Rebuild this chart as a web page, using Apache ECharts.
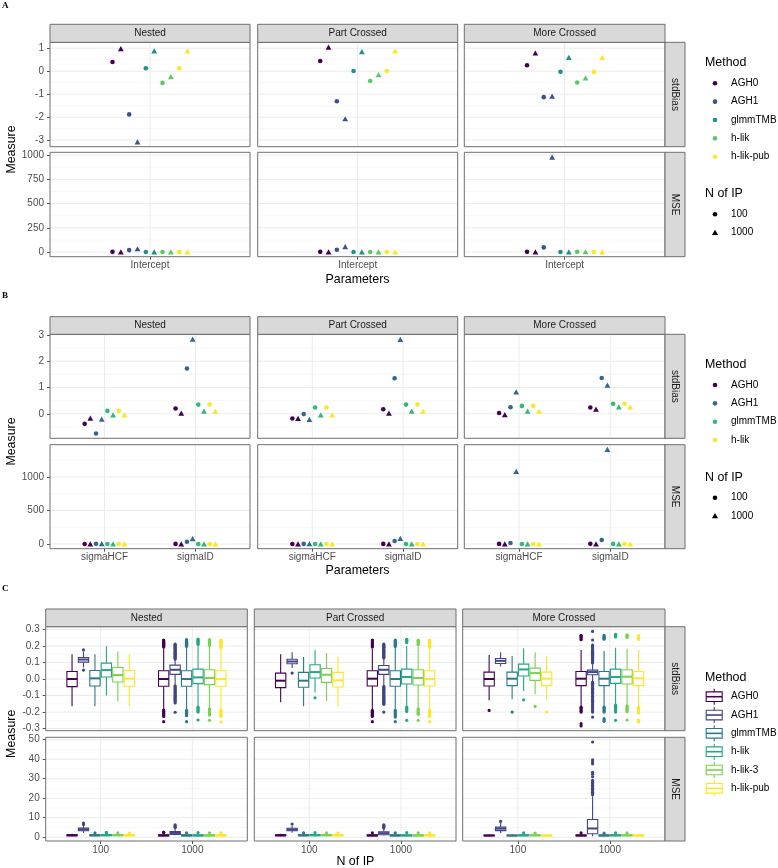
<!DOCTYPE html>
<html><head><meta charset="utf-8">
<script src="https://cdn.jsdelivr.net/npm/echarts@6/dist/echarts.min.js"></script>
<style>html,body{margin:0;padding:0;background:#fff}#c{width:778px;height:868px}</style>
</head><body><div id="c"></div>
<script>
// ================= DATA =================
const facets = ['Nested', 'Part Crossed', 'More Crossed'];
const rowNames = ['stdBias', 'MSE'];
const nOfIP = ['100', '1000'];

// ---- Panel A (Intercept) ----
const methodsA = ['AGH0', 'AGH1', 'glmmTMB', 'h-lik', 'h-lik-pub'];
const colorsA = ['#440154', '#3B528B', '#21908C', '#5DC863', '#FDE725'];
const paramsA = ['Intercept'];
// order: AGH0-100, AGH0-1000, AGH1-100, AGH1-1000, glmmTMB-100, glmmTMB-1000, h-lik-100, h-lik-1000, h-lik-pub-100, h-lik-pub-1000
const A_stdBias_Nested = [0.40, 0.98, -1.88, -3.08, 0.13, 0.88, -0.51, -0.24, 0.13, 0.88];
const A_stdBias_PartCrossed = [0.44, 1.05, -1.31, -2.07, 0.01, 0.85, -0.43, -0.15, 0.01, 0.88];
const A_stdBias_MoreCrossed = [0.26, 0.79, -1.13, -1.09, -0.03, 0.60, -0.49, -0.29, -0.03, 0.60];
const A_MSE_Nested = [2, 2, 20, 34, 1, 1, 1, 1, 1, 1];
const A_MSE_PartCrossed = [2, 2, 24, 55, 1, 1, 1, 1, 1, 1];
const A_MSE_MoreCrossed = [2, 2, 48, 980, 1, 2, 3, 3, 1, 2];
const A_stdBias_ticks = [-3, -2, -1, 0, 1];
const A_stdBias_minor = [-2.5, -1.5, -0.5, 0.5];
const A_MSE_ticks = [0, 250, 500, 750, 1000];
const A_MSE_minor = [125, 375, 625, 875];

// ---- Panel B (variance parameters) ----
const methodsB = ['AGH0', 'AGH1', 'glmmTMB', 'h-lik'];
const colorsB = ['#440154', '#31688E', '#35B779', '#FDE725'];
const paramsB = ['sigmaHCF', 'sigmaID'];
// order: AGH0-100, AGH0-1000, AGH1-100, AGH1-1000, glmmTMB-100, glmmTMB-1000, h-lik-100, h-lik-1000
const B_stdBias_Nested_sigmaHCF = [-0.38, -0.16, -0.75, -0.20, 0.11, -0.04, 0.11, -0.04];
const B_stdBias_Nested_sigmaID = [0.20, 0.03, 1.72, 2.84, 0.35, 0.10, 0.35, 0.10];
const B_stdBias_PartCrossed_sigmaHCF = [-0.175, -0.175, -0.01, -0.21, 0.24, -0.04, 0.24, -0.04];
const B_stdBias_PartCrossed_sigmaID = [0.175, 0.03, 1.35, 2.83, 0.35, 0.10, 0.35, 0.10];
const B_stdBias_MoreCrossed_sigmaHCF = [0.03, -0.03, 0.25, 0.83, 0.30, 0.10, 0.30, 0.10];
const B_stdBias_MoreCrossed_sigmaID = [0.24, 0.18, 1.36, 1.09, 0.38, 0.26, 0.38, 0.26];
const B_MSE_Nested_sigmaHCF = [1, 1, 3, 5, 1, 1, 1, 1];
const B_MSE_Nested_sigmaID = [2, 2, 35, 80, 1, 1, 1, 1];
const B_MSE_PartCrossed_sigmaHCF = [1, 1, 2, 4, 1, 1, 1, 1];
const B_MSE_PartCrossed_sigmaID = [2, 2, 45, 84, 1, 1, 1, 1];
const B_MSE_MoreCrossed_sigmaHCF = [2, 2, 15, 1084, 1, 1, 1, 1];
const B_MSE_MoreCrossed_sigmaID = [3, 3, 60, 1411, 2, 2, 2, 2];
const B_stdBias_ticks = [0, 1, 2, 3];
const B_stdBias_minor = [-0.5, 0.5, 1.5, 2.5];
const B_MSE_ticks = [0, 500, 1000];
const B_MSE_minor = [250, 750, 1250];

// ---- Panel C (boxplots by N of IP) ----
const methodsC = ['AGH0', 'AGH1', 'glmmTMB', 'h-lik', 'h-lik-3', 'h-lik-pub'];
const colorsC = ['#440154', '#414487', '#2A788E', '#22A884', '#7AD151', '#FDE725'];
// box stats: [lower whisker, Q1, median, Q3, upper whisker], one per method
const C_stdBias_Nested_100 = [[-0.164,-0.046,0.0,0.046,0.15],[0.07,0.102,0.118,0.13,0.165],[-0.164,-0.042,0.004,0.052,0.15],[-0.10,0.012,0.054,0.096,0.198],[-0.136,-0.018,0.024,0.07,0.166],[-0.164,-0.044,0.002,0.052,0.15]];
const C_stdBias_Nested_100_out = [[],[0.176,0.054],[],[],[],[]];
const C_stdBias_Nested_1000 = [[-0.185,-0.044,0.0,0.05,0.19],[-0.035,0.028,0.056,0.084,0.115],[-0.185,-0.044,0.0,0.05,0.19],[-0.165,-0.028,0.01,0.06,0.2],[-0.175,-0.034,0.006,0.056,0.195],[-0.185,-0.044,0.0,0.05,0.185]];
const C_stdBias_Nested_1000_out = [
  [0.236,0.231,0.226,0.222,0.216,0.211,0.205,0.199,0.194,-0.188,-0.193,-0.198,-0.204,-0.209,-0.215,-0.221,-0.226,-0.258],
  [0.211,0.206,0.201,0.196,0.191,0.186,0.181,0.176,0.171,0.166,0.161,0.156,0.151,0.146,0.141,0.136,0.131,0.126,0.121,-0.041,-0.047,-0.053,-0.059,-0.065,-0.071,-0.077,-0.083,-0.089,-0.095,-0.101,-0.107,-0.113,-0.119,-0.125,-0.131,-0.138,-0.145,-0.201],
  [0.238,0.232,0.227,0.222,0.216,0.21,0.204,0.197,-0.19,-0.196,-0.202,-0.208,-0.215,-0.222,-0.258],
  [0.242,0.237,0.232,0.226,0.221,0.215,0.209,-0.17,-0.176,-0.182,-0.188,-0.194,-0.2,-0.248],
  [0.238,0.233,0.228,0.222,0.216,0.21,0.203,-0.18,-0.186,-0.192,-0.198,-0.204,-0.212,-0.218,-0.25],
  [0.236,0.232,0.227,0.222,0.217,0.212,0.206,0.2,0.195,0.19,-0.19,-0.196,-0.202,-0.208,-0.214,-0.22,-0.226,-0.26]];
const C_stdBias_PartCrossed_100 = [[-0.14,-0.052,-0.01,0.036,0.15],[0.066,0.092,0.106,0.12,0.162],[-0.164,-0.05,-0.01,0.04,0.134],[-0.082,0.006,0.042,0.086,0.176],[-0.132,-0.02,0.026,0.064,0.158],[-0.164,-0.048,-0.008,0.04,0.134]];
const C_stdBias_PartCrossed_100_out = [[],[0.036],[],[-0.114],[],[]];
const C_stdBias_PartCrossed_1000 = [[-0.185,-0.042,0.002,0.05,0.185],[-0.04,0.028,0.056,0.082,0.12],[-0.185,-0.044,0.0,0.05,0.19],[-0.165,-0.03,0.012,0.06,0.2],[-0.175,-0.036,0.006,0.056,0.195],[-0.185,-0.042,0.0,0.05,0.185]];
const C_stdBias_PartCrossed_1000_out = [
  [0.236,0.23,0.224,0.218,0.212,0.206,0.2,0.194,-0.19,-0.196,-0.202,-0.208,-0.214,-0.22,-0.226,-0.258],
  [0.212,0.207,0.202,0.197,0.192,0.187,0.182,0.177,0.172,0.167,0.162,0.157,0.152,0.147,0.142,0.137,0.132,0.127,-0.045,-0.051,-0.057,-0.063,-0.069,-0.075,-0.081,-0.087,-0.093,-0.099,-0.105,-0.111,-0.117,-0.123,-0.129,-0.135,-0.141,-0.147,-0.153,-0.2],
  [0.236,0.231,0.226,0.221,0.215,0.209,0.203,0.197,-0.19,-0.197,-0.204,-0.21,-0.217,-0.224,-0.23,-0.258],
  [0.24,0.235,0.23,0.225,0.22,-0.17,-0.176,-0.183,-0.19,-0.197,-0.25],
  [0.236,0.231,0.226,0.22,0.214,0.207,-0.18,-0.187,-0.194,-0.2,-0.207,-0.214,-0.25],
  [0.236,0.231,0.226,0.221,0.216,0.21,0.204,0.198,0.192,-0.19,-0.196,-0.202,-0.208,-0.214,-0.22,-0.226,-0.258]];
const C_stdBias_MoreCrossed_100 = [[-0.128,-0.042,0.0,0.042,0.146],[0.076,0.094,0.11,0.124,0.162],[-0.122,-0.04,0.002,0.042,0.14],[-0.072,0.018,0.058,0.09,0.186],[-0.092,-0.008,0.036,0.066,0.162],[-0.122,-0.04,0.002,0.042,0.14]];
const C_stdBias_MoreCrossed_100_out = [[-0.19],[],[-0.2],[-0.126],[-0.166],[-0.2]];
const C_stdBias_MoreCrossed_1000 = [[-0.165,-0.04,0.002,0.046,0.175],[-0.012,0.026,0.042,0.054,0.09],[-0.165,-0.04,0.002,0.046,0.17],[-0.155,-0.026,0.012,0.06,0.19],[-0.16,-0.03,0.014,0.056,0.185],[-0.165,-0.04,0.004,0.046,0.175]];
const C_stdBias_MoreCrossed_1000_out = [
  [0.265,0.258,0.251,0.244,0.238,-0.17,-0.176,-0.182,-0.188,-0.194,-0.2,-0.27,-0.284],
  [0.288,0.236,0.206,0.2,0.194,0.188,0.181,0.175,0.168,0.162,0.155,0.149,0.142,0.136,0.129,0.123,0.116,0.11,0.103,0.097,-0.018,-0.025,-0.032,-0.04,-0.048,-0.056,-0.064,-0.072,-0.08,-0.088,-0.097,-0.106,-0.115,-0.124,-0.134,-0.144,-0.155,-0.166,-0.178,-0.19,-0.2,-0.23],
  [0.264,0.258,0.252,0.246,0.241,-0.17,-0.176,-0.182,-0.188,-0.194,-0.2,-0.24,-0.248,-0.256],
  [0.27,0.265,0.26,0.255,-0.158,-0.164,-0.17,-0.176,-0.182,-0.188,-0.194,-0.2,-0.25],
  [0.268,0.263,0.258,0.252,-0.162,-0.168,-0.174,-0.18,-0.186,-0.192,-0.198,-0.248],
  [0.262,0.256,0.25,0.244,0.239,-0.17,-0.176,-0.182,-0.188,-0.194,-0.2,-0.206,-0.248,-0.254,-0.26]];

const C_MSE_Nested_100 = [[0.5,0.75,1.0,1.3,1.8],[2.2,3.3,4.0,4.7,6.2],[0.5,0.75,1.0,1.3,1.9],[0.5,0.8,1.05,1.35,1.9],[0.5,0.8,1.05,1.35,1.9],[0.5,0.75,1.0,1.3,1.9]];
const C_MSE_Nested_100_out = [[],[6.6,7.3],[2.2],[2.3,2.5],[2.2],[2.1]];
const C_MSE_Nested_1000 = [[0.5,0.7,0.95,1.3,2.0],[1.0,1.4,2.2,2.9,4.6],[0.5,0.7,0.95,1.3,2.0],[0.5,0.7,0.95,1.3,2.0],[0.5,0.7,0.95,1.3,2.0],[0.5,0.7,0.95,1.3,2.0]];
const C_MSE_Nested_1000_out = [[2.3,2.6],[5.0,5.4,5.8,6.3],[2.3],[2.4],[2.3],[2.2]];
const C_MSE_PartCrossed_100 = [[0.5,0.75,1.0,1.3,1.8],[2.3,3.3,3.9,4.6,6.0],[0.5,0.75,1.0,1.3,1.9],[0.5,0.8,1.05,1.35,1.9],[0.5,0.8,1.05,1.35,1.9],[0.5,0.75,1.0,1.3,1.9]];
const C_MSE_PartCrossed_100_out = [[],[6.8],[2.2],[2.4],[2.2],[2.1]];
const C_MSE_PartCrossed_1000 = [[0.5,0.7,0.95,1.3,2.0],[0.9,1.3,2.1,2.8,4.4],[0.5,0.7,0.95,1.3,2.0],[0.5,0.7,0.95,1.3,2.0],[0.5,0.7,0.95,1.3,2.0],[0.5,0.7,0.95,1.3,2.0]];
const C_MSE_PartCrossed_1000_out = [[2.3],[4.8,5.2,5.6,6.0,6.4],[2.3],[2.4],[2.3],[2.2]];
const C_MSE_MoreCrossed_100 = [[0.5,0.7,0.9,1.1,1.4],[2.2,3.4,4.4,5.2,7.3],[0.5,0.7,0.9,1.1,1.5],[0.5,0.75,1.0,1.25,1.8],[0.5,0.75,1.0,1.25,1.8],[0.5,0.7,0.9,1.1,1.5]];
const C_MSE_MoreCrossed_100_out = [[],[8.1],[],[2.2],[2.1],[]];
const C_MSE_MoreCrossed_1000 = [[0.5,0.7,0.9,1.2,1.8],[0.5,1.8,4.5,9.1,21.0],[0.5,0.7,0.9,1.2,1.8],[0.5,0.75,1.0,1.25,1.8],[0.5,0.75,1.0,1.25,1.8],[0.5,0.7,0.9,1.2,1.8]];
const C_MSE_MoreCrossed_1000_out = [[2.2],[21.8,22.5,23.1,23.8,24.4,25.1,25.9,26.6,27.4,28.2,29.1,31.0,32.3,33.3,37.6,38.6,39.6,48.8],[2.1],[2.3],[2.2],[]];
const C_stdBias_ticks = [-0.3, -0.2, -0.1, 0.0, 0.1, 0.2, 0.3];
const C_stdBias_minor = [-0.25, -0.15, -0.05, 0.05, 0.15, 0.25];
const C_MSE_ticks = [0, 10, 20, 30, 40, 50];
const C_MSE_minor = [5, 15, 25, 35, 45];

// ================= BUILD =================
const FONT = '"Liberation Sans", Arial, Helvetica, sans-serif';
const SMALL = 10, TITLE = 12.4;
const grids = [], xAxes = [], yAxes = [], series = [], gfx = [];
let gIdx = 0;

function expanded(vals) {
  let mn = Infinity, mx = -Infinity;
  vals.forEach(v => { if (v < mn) mn = v; if (v > mx) mx = v; });
  const e = (mx - mn) * 0.05;
  return [mn - e, mx + e];
}
function flat(a) { return a.reduce((s, x) => s.concat(Array.isArray(x) ? flat(x) : [x]), []); }

function addGrid(o) {
  const i = gIdx++;
  grids.push({ left: o.left, top: o.top, width: o.width, height: o.height, show: false });
  xAxes.push({
    gridIndex: i, type: 'value', min: o.xr[0], max: o.xr[1],
    axisLine: { show: false, onZero: false }, splitLine: { show: false },
    axisTick: { show: o.showX, length: 3, lineStyle: { color: '#555' }, customValues: o.xTicks },
    axisLabel: { show: o.showX, customValues: o.xTicks, margin: 4, color: '#4D4D4D', fontSize: SMALL, fontFamily: FONT,
      formatter: v => { const k = o.xTicks.indexOf(v); return k >= 0 ? o.xLabels[k] : ''; } }
  });
  yAxes.push({
    gridIndex: i, type: 'value', min: o.yr[0], max: o.yr[1],
    axisLine: { show: false, onZero: false }, splitLine: { show: false },
    axisTick: { show: o.showY, length: 3, lineStyle: { color: '#555' }, customValues: o.yTicks },
    axisLabel: { show: o.showY, customValues: o.yTicks, margin: 6, color: '#4D4D4D', fontSize: SMALL, fontFamily: FONT,
      formatter: o.yFmt }
  });
  const gl = [];
  o.yMinor.forEach(v => gl.push([0, v, 0]));
  o.yTicks.forEach(v => gl.push([0, v, 1]));
  o.xTicks.forEach(v => gl.push([1, v, 1]));
  const xr = o.xr, yr = o.yr;
  series.push({
    type: 'custom', xAxisIndex: i, yAxisIndex: i, silent: true, z: 1, data: gl,
    renderItem: (params, api) => {
      const ori = api.value(0), v = api.value(1), maj = api.value(2);
      let p1, p2;
      if (ori === 0) { p1 = api.coord([xr[0], v]); p2 = api.coord([xr[1], v]); }
      else { p1 = api.coord([v, yr[0]]); p2 = api.coord([v, yr[1]]); }
      return { type: 'line', shape: { x1: p1[0], y1: p1[1], x2: p2[0], y2: p2[1] },
        style: { stroke: maj ? '#EBEBEB' : '#F2F2F2', lineWidth: maj ? 1 : 0.6 } };
    }
  });
  gfx.push({ type: 'rect', z: 100, silent: true, shape: { x: o.left, y: o.top, width: o.width, height: o.height },
    style: { fill: 'none', stroke: '#6E6E6E', lineWidth: 1 } });
  return i;
}

function txt(text, x, y, size, color, opts) {
  opts = opts || {};
  const el = { type: 'text', x: x, y: y, z: 101, silent: true,
    style: { text: text, font: (opts.weight || 'normal') + ' ' + size + 'px ' + (opts.family || FONT),
      fill: color, align: opts.align || 'left', textAlign: opts.align || 'left',
      verticalAlign: 'middle', textVerticalAlign: 'middle' } };
  if (opts.rotation) el.rotation = opts.rotation;
  gfx.push(el);
}
function topStrip(left, top, width, height, label) {
  gfx.push({ type: 'rect', z: 100, silent: true, shape: { x: left, y: top, width: width, height: height },
    style: { fill: '#D9D9D9', stroke: '#6E6E6E', lineWidth: 1 } });
  txt(label, left + width / 2, top + height / 2, SMALL, '#1A1A1A', { align: 'center' });
}
function rightStrip(left, top, width, height, label) {
  gfx.push({ type: 'rect', z: 100, silent: true, shape: { x: left, y: top, width: width, height: height },
    style: { fill: '#D9D9D9', stroke: '#6E6E6E', lineWidth: 1 } });
  txt(label, left + width / 2, top + height / 2, SMALL, '#1A1A1A', { align: 'center', rotation: -Math.PI / 2 });
}

// ---------- Panel A ----------
const colsAB = [[50, 200], [257.7, 200], [464.3, 200.7]];
const A_rows = [
  { top: 42.3, height: 104.4, data: [A_stdBias_Nested, A_stdBias_PartCrossed, A_stdBias_MoreCrossed], ticks: A_stdBias_ticks, minor: A_stdBias_minor, fmt: v => String(v) },
  { top: 152.3, height: 104.4, data: [A_MSE_Nested, A_MSE_PartCrossed, A_MSE_MoreCrossed], ticks: A_MSE_ticks, minor: A_MSE_minor, fmt: v => String(v) }
];
A_rows.forEach((row, r) => {
  const yr = expanded(flat(row.data));
  facets.forEach((f, c) => {
    const i = addGrid({ left: colsAB[c][0], top: row.top, width: colsAB[c][1], height: row.height,
      xr: [0.4, paramsA.length + 0.6], yr: yr, xTicks: paramsA.map((p, k) => k + 1), xLabels: paramsA,
      yTicks: row.ticks, yMinor: row.minor, yFmt: row.fmt, showX: r === 1, showY: c === 0 });
    const G = methodsA.length * nOfIP.length, slot = 0.5 / G;
    methodsA.forEach((m, mi) => {
      const pts = [];
      nOfIP.forEach((n, ni) => {
        const g = mi * nOfIP.length + ni;
        pts.push({ value: [1 + (g - (G - 1) / 2) * slot, row.data[c][g]], symbol: ni === 0 ? 'circle' : 'triangle', symbolSize: ni === 0 ? 4.6 : [5.8, 5.2] });
      });
      series.push({ type: 'scatter', name: m, xAxisIndex: i, yAxisIndex: i, z: 3, data: pts, itemStyle: { color: colorsA[mi], opacity: 1 } });
    });
  });
  rightStrip(665, row.top, 20, row.height, rowNames[r]);
});
facets.forEach((f, c) => topStrip(colsAB[c][0], 24.3, colsAB[c][1], 18, f));

// ---------- Panel B ----------
const B_data = {
  stdBias: [[B_stdBias_Nested_sigmaHCF, B_stdBias_Nested_sigmaID], [B_stdBias_PartCrossed_sigmaHCF, B_stdBias_PartCrossed_sigmaID], [B_stdBias_MoreCrossed_sigmaHCF, B_stdBias_MoreCrossed_sigmaID]],
  MSE: [[B_MSE_Nested_sigmaHCF, B_MSE_Nested_sigmaID], [B_MSE_PartCrossed_sigmaHCF, B_MSE_PartCrossed_sigmaID], [B_MSE_MoreCrossed_sigmaHCF, B_MSE_MoreCrossed_sigmaID]]
};
const B_rows = [
  { top: 334.3, height: 104, data: B_data.stdBias, ticks: B_stdBias_ticks, minor: B_stdBias_minor, fmt: v => String(v) },
  { top: 444.7, height: 104, data: B_data.MSE, ticks: B_MSE_ticks, minor: B_MSE_minor, fmt: v => String(v) }
];
B_rows.forEach((row, r) => {
  const yr = expanded(flat(row.data));
  facets.forEach((f, c) => {
    const i = addGrid({ left: colsAB[c][0], top: row.top, width: colsAB[c][1], height: row.height,
      xr: [0.4, paramsB.length + 0.6], yr: yr, xTicks: paramsB.map((p, k) => k + 1), xLabels: paramsB,
      yTicks: row.ticks, yMinor: row.minor, yFmt: row.fmt, showX: r === 1, showY: c === 0 });
    const G = methodsB.length * nOfIP.length, slot = 0.5 / G;
    methodsB.forEach((m, mi) => {
      const pts = [];
      paramsB.forEach((p, pi) => {
        nOfIP.forEach((n, ni) => {
          const g = mi * nOfIP.length + ni;
          pts.push({ value: [pi + 1 + (g - (G - 1) / 2) * slot, row.data[c][pi][g]], symbol: ni === 0 ? 'circle' : 'triangle', symbolSize: ni === 0 ? 4.6 : [5.8, 5.2] });
        });
      });
      series.push({ type: 'scatter', name: m, xAxisIndex: i, yAxisIndex: i, z: 3, data: pts, itemStyle: { color: colorsB[mi], opacity: 1 } });
    });
  });
  rightStrip(665, row.top, 20, row.height, rowNames[r]);
});
facets.forEach((f, c) => topStrip(colsAB[c][0], 316.7, colsAB[c][1], 17.6, f));

// ---------- Panel C ----------
const colsC = [[45.7, 201.6], [254.3, 201.7], [462.7, 202.3]];
const C_box = {
  stdBias: [[C_stdBias_Nested_100, C_stdBias_Nested_1000], [C_stdBias_PartCrossed_100, C_stdBias_PartCrossed_1000], [C_stdBias_MoreCrossed_100, C_stdBias_MoreCrossed_1000]],
  MSE: [[C_MSE_Nested_100, C_MSE_Nested_1000], [C_MSE_PartCrossed_100, C_MSE_PartCrossed_1000], [C_MSE_MoreCrossed_100, C_MSE_MoreCrossed_1000]]
};
const C_out = {
  stdBias: [[C_stdBias_Nested_100_out, C_stdBias_Nested_1000_out], [C_stdBias_PartCrossed_100_out, C_stdBias_PartCrossed_1000_out], [C_stdBias_MoreCrossed_100_out, C_stdBias_MoreCrossed_1000_out]],
  MSE: [[C_MSE_Nested_100_out, C_MSE_Nested_1000_out], [C_MSE_PartCrossed_100_out, C_MSE_PartCrossed_1000_out], [C_MSE_MoreCrossed_100_out, C_MSE_MoreCrossed_1000_out]]
};
const C_rows = [
  { key: 'stdBias', top: 626.7, height: 104, ticks: C_stdBias_ticks, minor: C_stdBias_minor, fmt: v => v.toFixed(1) },
  { key: 'MSE', top: 737.3, height: 103.7, ticks: C_MSE_ticks, minor: C_MSE_minor, fmt: v => String(v) }
];
const BOX_HW = 0.125 * 0.9 / 2;
C_rows.forEach((row, r) => {
  const yr = expanded(flat(C_box[row.key]).concat(flat(C_out[row.key])));
  facets.forEach((f, c) => {
    const i = addGrid({ left: colsC[c][0], top: row.top, width: colsC[c][1], height: row.height,
      xr: [0.4, nOfIP.length + 0.6], yr: yr, xTicks: nOfIP.map((p, k) => k + 1), xLabels: nOfIP,
      yTicks: row.ticks, yMinor: row.minor, yFmt: row.fmt, showX: r === 1, showY: c === 0 });
    const G = methodsC.length, slot = 0.75 / G;
    methodsC.forEach((m, mi) => {
      const col = colorsC[mi];
      const boxes = [], outs = [];
      nOfIP.forEach((n, ni) => {
        const x = ni + 1 + (mi - (G - 1) / 2) * slot;
        const b = C_box[row.key][c][ni][mi];
        boxes.push([x, b[0], b[1], b[2], b[3], b[4]]);
        C_out[row.key][c][ni][mi].forEach(v => outs.push([x, v]));
      });
      series.push({ type: 'scatter', name: m, xAxisIndex: i, yAxisIndex: i, z: 2, data: outs, symbol: 'circle', symbolSize: 3.2,
        itemStyle: { color: col, opacity: 1 } });
      series.push({
        type: 'custom', name: m, xAxisIndex: i, yAxisIndex: i, z: 3, data: boxes,
        encode: { x: 0, y: [1, 2, 3, 4, 5] },
        renderItem: (params, api) => {
          const x = api.value(0);
          const lo = api.coord([x, api.value(1)]), q1 = api.coord([x, api.value(2)]), md = api.coord([x, api.value(3)]),
            q3 = api.coord([x, api.value(4)]), hi = api.coord([x, api.value(5)]);
          const xl = api.coord([x - BOX_HW, api.value(3)])[0], xr2 = api.coord([x + BOX_HW, api.value(3)])[0];
          return { type: 'group', children: [
            { type: 'line', shape: { x1: lo[0], y1: lo[1], x2: q1[0], y2: q1[1] }, style: { stroke: col, lineWidth: 1.1 } },
            { type: 'line', shape: { x1: q3[0], y1: q3[1], x2: hi[0], y2: hi[1] }, style: { stroke: col, lineWidth: 1.1 } },
            { type: 'rect', shape: { x: xl, y: q3[1], width: xr2 - xl, height: Math.max(q1[1] - q3[1], 0.5) }, style: { fill: '#FFFFFF', stroke: col, lineWidth: 1.1 } },
            { type: 'line', shape: { x1: xl, y1: md[1], x2: xr2, y2: md[1] }, style: { stroke: col, lineWidth: 2 } }
          ] };
        }
      });
    });
  });
  rightStrip(665, row.top, 20, row.height, rowNames[r]);
});
facets.forEach((f, c) => topStrip(colsC[c][0], 609, colsC[c][1], 17.7, f));

// ---------- titles & labels ----------
txt('A', 2, 5.5, 9, '#000', { weight: 'bold', family: '"Liberation Serif", "DejaVu Serif", serif' });
txt('B', 2, 296, 9, '#000', { weight: 'bold', family: '"Liberation Serif", "DejaVu Serif", serif' });
txt('C', 2, 589, 9, '#000', { weight: 'bold', family: '"Liberation Serif", "DejaVu Serif", serif' });
txt('Measure', 12, 149.5, TITLE, '#000', { align: 'center', rotation: Math.PI / 2 });
txt('Measure', 12, 441.5, TITLE, '#000', { align: 'center', rotation: Math.PI / 2 });
txt('Measure', 12, 733.8, TITLE, '#000', { align: 'center', rotation: Math.PI / 2 });
txt('Parameters', 357.5, 279.5, TITLE, '#000', { align: 'center' });
txt('Parameters', 357.5, 570.5, TITLE, '#000', { align: 'center' });
txt('N of IP', 355.4, 862, TITLE, '#000', { align: 'center' });

// ---------- legends ----------
function triPts(cx, cy) { return [[cx, cy - 3], [cx - 3.1, cy + 2.3], [cx + 3.1, cy + 2.3]]; }
function pointLegend(titleY, methods, colors, itemY0, nTitleY, nY0) {
  txt('Method', 705, titleY, TITLE, '#000');
  methods.forEach((m, k) => {
    const y = itemY0 + k * 18.35;
    gfx.push({ type: 'circle', z: 101, silent: true, shape: { cx: 715, cy: y, r: 2.3 }, style: { fill: colors[k] } });
    txt(m, 731, y, SMALL, '#000');
  });
  txt('N of IP', 705, nTitleY, TITLE, '#000');
  gfx.push({ type: 'circle', z: 101, silent: true, shape: { cx: 715, cy: nY0, r: 2.3 }, style: { fill: '#000' } });
  txt(nOfIP[0], 731, nY0, SMALL, '#000');
  gfx.push({ type: 'polygon', z: 101, silent: true, shape: { points: triPts(715, nY0 + 18.35) }, style: { fill: '#000' } });
  txt(nOfIP[1], 731, nY0 + 18.35, SMALL, '#000');
}
pointLegend(63, methodsA, colorsA, 83.3, 193.3, 214.3);
pointLegend(365, methodsB, colorsB, 385, 477.3, 497.7);
txt('Method', 705, 677.3, TITLE, '#000');
methodsC.forEach((m, k) => {
  const y = 696.7 + k * 18.33, col = colorsC[k];
  gfx.push({ type: 'line', z: 101, silent: true, shape: { x1: 714.2, y1: y - 8, x2: 714.2, y2: y + 8 }, style: { stroke: col, lineWidth: 1.1 } });
  gfx.push({ type: 'rect', z: 101, silent: true, shape: { x: 706.2, y: y - 4.8, width: 16, height: 9.6 }, style: { fill: '#fff', stroke: col, lineWidth: 1.1 } });
  gfx.push({ type: 'line', z: 101, silent: true, shape: { x1: 706.2, y1: y, x2: 722.2, y2: y }, style: { stroke: col, lineWidth: 1.6 } });
  txt(m, 731, y, SMALL, '#000');
});

const chart = echarts.init(document.getElementById('c'), null, { renderer: 'canvas' });
chart.setOption({
  animation: false,
  backgroundColor: '#FFFFFF',
  grid: grids, xAxis: xAxes, yAxis: yAxes, series: series,
  graphic: { elements: gfx }
});
</script>
</body></html>
